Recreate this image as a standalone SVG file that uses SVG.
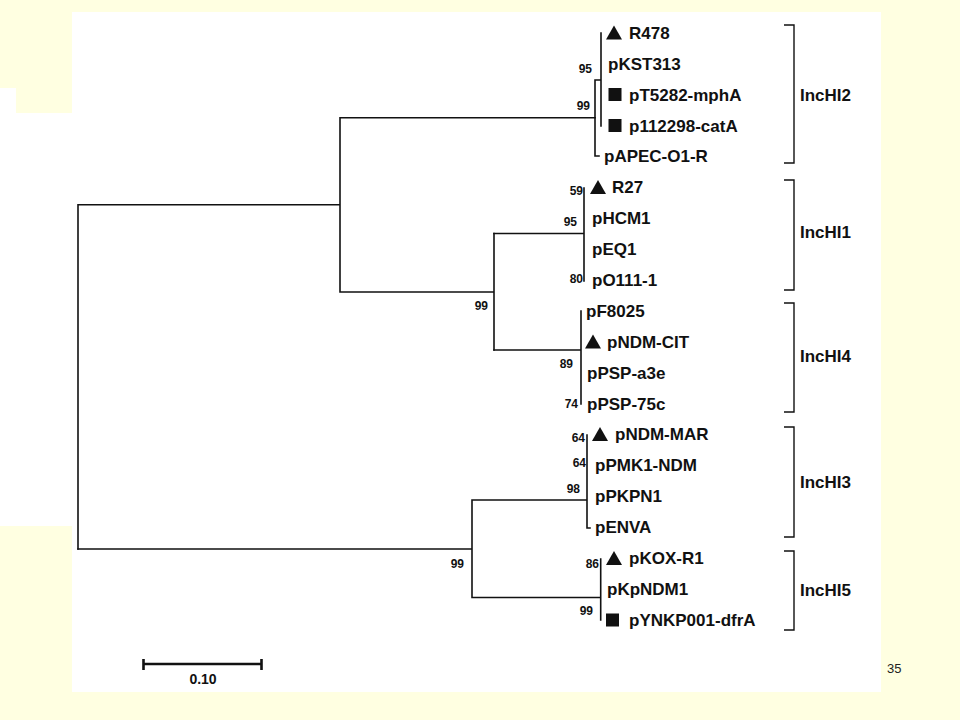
<svg xmlns="http://www.w3.org/2000/svg" width="960" height="720" viewBox="0 0 960 720">
<style>
.bg{fill:#FFFFE1}
.wh{fill:#FFFFFF}
.br{fill:none;stroke:#111;stroke-width:1.6;stroke-linecap:square}
.bk{fill:none;stroke:#111;stroke-width:1.4}
.lf{font-family:"Liberation Sans",Arial,sans-serif;font-weight:bold;font-size:17px;fill:#111}
.bs{font-family:"Liberation Sans",Arial,sans-serif;font-weight:bold;font-size:12px;fill:#111;text-anchor:end}
.gp{font-family:"Liberation Sans",Arial,sans-serif;font-weight:bold;font-size:17px;fill:#111}
.pg{font-family:"Liberation Sans",Arial,sans-serif;font-size:13px;fill:#222}
.sc{font-family:"Liberation Sans",Arial,sans-serif;font-weight:bold;font-size:14px;fill:#111;text-anchor:middle}
.mk{fill:#111}
</style>
<defs>
<path id="tri" d="M0,-7 L8,7 L-8,7 Z"/>
<rect id="sq" x="-6.5" y="-6.5" width="13" height="13"/>
</defs>
<rect class="bg" x="0" y="0" width="960" height="720"/>
<rect class="wh" x="72" y="12" width="809" height="680"/>
<rect class="wh" x="0" y="88" width="72" height="438"/>
<rect class="bg" x="16" y="88" width="56" height="25"/>

<g id="connectors">
<path class="br" d="M78,204.7 V549 M78,204.7 H340 M340,117.7 V292 M340,117.7 H595 M340,292 H494 M494,233.5 V350"/>
<path class="br" d="M595,80 V156 H599 M595,80 H601 M601,33 V126"/>
<path class="br" d="M494,233.5 H584 M584,188 V281"/>
<path class="br" d="M494,350 H581 M581,311 V404"/>
<path class="br" d="M78,549 H472 M472,500 V597.5 M472,500 H587 M587,435 V528 H590 M472,597.5 H600.7 M600.7,559 V620"/>
</g>

<g id="bootstrap">
<text class="bs" x="592" y="73">95</text>
<text class="bs" x="590" y="110">99</text>
<text class="bs" x="583" y="195">59</text>
<text class="bs" x="577" y="226">95</text>
<text class="bs" x="583" y="283">80</text>
<text class="bs" x="488" y="310">99</text>
<text class="bs" x="573" y="368">89</text>
<text class="bs" x="578" y="408">74</text>
<text class="bs" x="585" y="442">64</text>
<text class="bs" x="586" y="467">64</text>
<text class="bs" x="580" y="493">98</text>
<text class="bs" x="464" y="568">99</text>
<text class="bs" x="599" y="568">86</text>
<text class="bs" x="593" y="615">99</text>
</g>

<g id="leaf-R478"><use href="#tri" class="mk" x="614" y="32.5"/><text class="lf" x="629" y="38.5">R478</text></g>
<g id="leaf-pKST313"><text class="lf" x="608" y="69.5">pKST313</text></g>
<g id="leaf-pT5282-mphA"><use href="#sq" class="mk" x="615" y="94.5"/><text class="lf" x="629" y="100.5">pT5282-mphA</text></g>
<g id="leaf-p112298-catA"><use href="#sq" class="mk" x="615" y="125.5"/><text class="lf" x="629" y="131.5">p112298-catA</text></g>
<g id="leaf-pAPEC-O1-R"><text class="lf" x="604" y="162">pAPEC-O1-R</text></g>
<g id="leaf-R27"><use href="#tri" class="mk" x="598" y="187"/><text class="lf" x="612" y="193">R27</text></g>
<g id="leaf-pHCM1"><text class="lf" x="592" y="224">pHCM1</text></g>
<g id="leaf-pEQ1"><text class="lf" x="592" y="255">pEQ1</text></g>
<g id="leaf-pO111-1"><text class="lf" x="592" y="286">pO111-1</text></g>
<g id="leaf-pF8025"><text class="lf" x="586" y="317">pF8025</text></g>
<g id="leaf-pNDM-CIT"><use href="#tri" class="mk" x="593" y="341.5"/><text class="lf" x="607" y="347.5">pNDM-CIT</text></g>
<g id="leaf-pPSP-a3e"><text class="lf" x="587" y="378.5">pPSP-a3e</text></g>
<g id="leaf-pPSP-75c"><text class="lf" x="587" y="409.5">pPSP-75c</text></g>
<g id="leaf-pNDM-MAR"><use href="#tri" class="mk" x="600" y="434"/><text class="lf" x="615" y="440">pNDM-MAR</text></g>
<g id="leaf-pPMK1-NDM"><text class="lf" x="595" y="471">pPMK1-NDM</text></g>
<g id="leaf-pPKPN1"><text class="lf" x="595" y="502">pPKPN1</text></g>
<g id="leaf-pENVA"><text class="lf" x="595" y="533">pENVA</text></g>
<g id="leaf-pKOX-R1"><use href="#tri" class="mk" x="614" y="558"/><text class="lf" x="629" y="564">pKOX-R1</text></g>
<g id="leaf-pKpNDM1"><text class="lf" x="607" y="595">pKpNDM1</text></g>
<g id="leaf-pYNKP001-dfrA"><use href="#sq" class="mk" x="612.5" y="620"/><text class="lf" x="629" y="626">pYNKP001-dfrA</text></g>

<g id="group-IncHI2"><path class="bk" d="M784,25 H794 V163 H784"/><text class="gp" x="800" y="101">IncHI2</text></g>
<g id="group-IncHI1"><path class="bk" d="M784,180 H794 V290 H784"/><text class="gp" x="800" y="238">IncHI1</text></g>
<g id="group-IncHI4"><path class="bk" d="M784,303 H794 V412 H784"/><text class="gp" x="800" y="362">IncHI4</text></g>
<g id="group-IncHI3"><path class="bk" d="M784,427 H794 V537 H784"/><text class="gp" x="800" y="488">IncHI3</text></g>
<g id="group-IncHI5"><path class="bk" d="M784,551 H794 V630 H784"/><text class="gp" x="800" y="596">IncHI5</text></g>

<g id="scale-bar">
<path d="M143.5,664 H261.5 M143.5,659 V670 M261.5,659 V670" fill="none" stroke="#111" stroke-width="2.6"/>
<text class="sc" x="203" y="684">0.10</text>
</g>
<text class="pg" x="887" y="673">35</text>
</svg>
